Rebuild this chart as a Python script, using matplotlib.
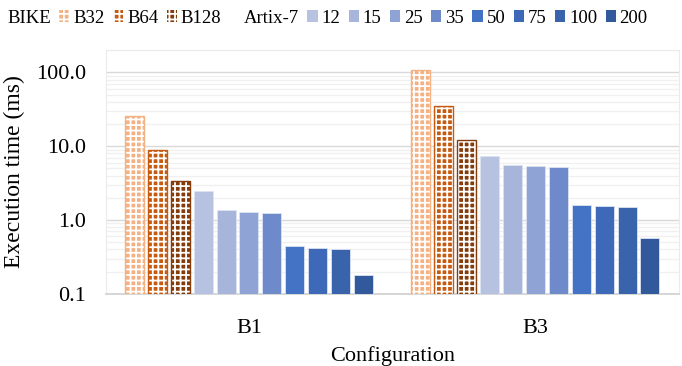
import numpy as np
import matplotlib.pyplot as plt
from matplotlib.patches import Rectangle

plt.rcParams['font.family'] = ['Liberation Serif', 'DejaVu Serif']
plt.rcParams['hatch.linewidth'] = 1.3

configs = ['B1', 'B3']
series = ['B32', 'B64', 'B128', '12', '15', '25', '35', '50', '75', '100', '200']
values = {
    'B32':  [25.5, 108.0],
    'B64':  [8.9, 35.0],
    'B128': [3.4, 12.0],
    '12':   [2.45, 7.4],
    '15':   [1.35, 5.5],
    '25':   [1.30, 5.4],
    '35':   [1.25, 5.3],
    '50':   [0.45, 1.6],
    '75':   [0.42, 1.55],
    '100':  [0.40, 1.50],
    '200':  [0.18, 0.57],
}
colors = ['#F4B183', '#C55A11', '#843C0C',
          '#B7C2E1', '#A7B5DB', '#8FA4D4', '#6F8ACA',
          '#4472C4', '#3E69B8', '#3963AB', '#31599B']
hatched = ['B32', 'B64', 'B128']
yticks = [0.1, 1, 10, 100]
ytick_labels = ['0.1', '1.0', '10.0', '100.0']

fig = plt.figure(figsize=(6.82, 3.66), dpi=100)
ax = fig.add_axes([0.155, 0.197, 0.84, 0.666])

x = np.arange(len(configs))
n = len(series)
step = 0.88 / n
width = step * 0.83

handles = []
for i, (name, c) in enumerate(zip(series, colors)):
    pos = x - 0.44 + step * (i + 0.5)
    if name in hatched:
        ax.bar(pos, values[name], width, color=c, edgecolor='white', hatch='+++', linewidth=0, zorder=3)
        ax.bar(pos, values[name], width, fill=False, edgecolor=c, linewidth=1.0, zorder=4)
        handles.append(Rectangle((0, 0), 1, 1, facecolor=c, edgecolor='white', hatch='+++', linewidth=0))
    else:
        ax.bar(pos, values[name], width, color=c, edgecolor='#DCE3F2', linewidth=0.6, zorder=3)
        handles.append(Rectangle((0, 0), 1, 1, facecolor=c, edgecolor='none'))

ax.set_yscale('log')
ax.set_ylim(0.1, 200)
ax.set_xlim(-0.5, 1.5)
ax.set_yticks(yticks)
ax.set_yticklabels(ytick_labels)
ax.set_xticks(x)
ax.set_xticklabels(configs)
ax.tick_params(axis='both', length=0, labelsize=16)
ax.tick_params(axis='y', pad=14)
ax.tick_params(axis='x', pad=18)
ax.grid(True, which='major', axis='y', color='#D9D9D9', linewidth=1.0, zorder=0)
ax.grid(True, which='minor', axis='y', color='#F0F0F0', linewidth=1.0, zorder=0)
ax.tick_params(axis='y', which='minor', length=0, labelleft=False)
for s in ['top', 'left', 'right']:
    ax.spines[s].set_color('#EBEBEB')
    ax.spines[s].set_linewidth(0.8)
ax.spines['bottom'].set_color('#D0D0D0')
ax.spines['bottom'].set_linewidth(1.2)
ax.set_ylabel('Execution time (ms)', fontsize=17, labelpad=8)
ax.set_xlabel('Configuration', fontsize=16, labelpad=6)

blank = Rectangle((0, 0), 1, 1, alpha=0)
leg_handles = [blank] + handles[:3] + [blank] + handles[3:]
leg_labels = ['BIKE'] + series[:3] + ['Artix-7'] + series[3:]
leg = fig.legend(leg_handles, leg_labels, loc='upper left', bbox_to_anchor=(-0.035, 1.02),
                 ncol=len(leg_labels), frameon=False, fontsize=13.5,
                 handlelength=0.55, handleheight=0.55, handletextpad=0.2, columnspacing=0.45)

fig.savefig('out.png', dpi=100)
